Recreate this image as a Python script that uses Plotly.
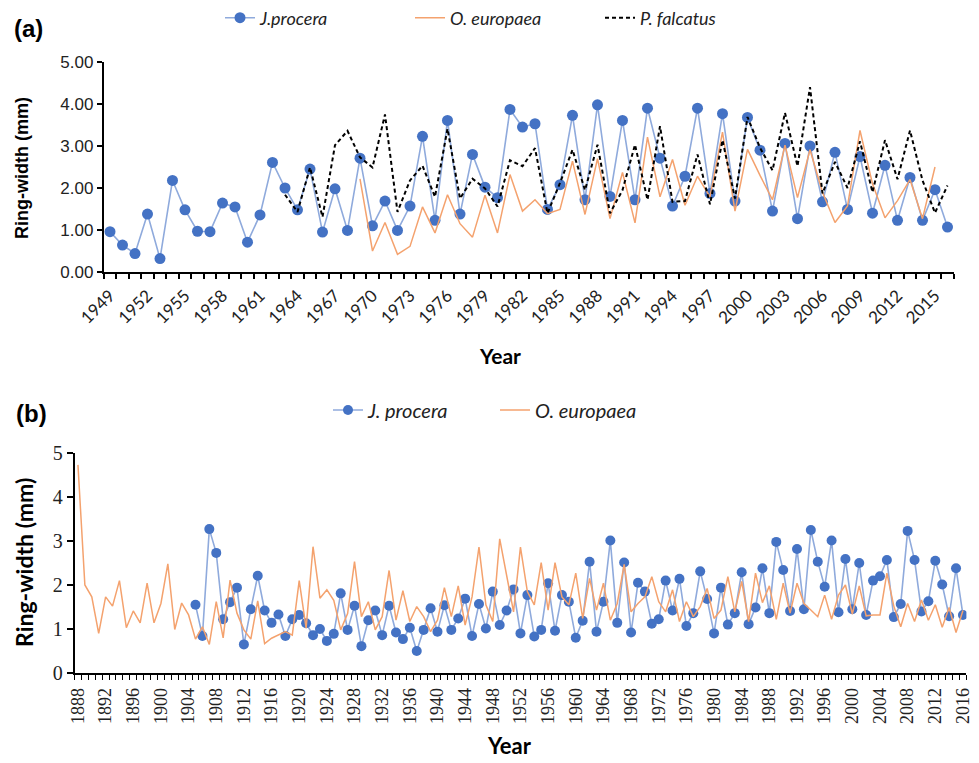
import plotly.graph_objects as go

# ---------------- Panel (a) data ----------------
years_a_jp = list(range(1949, 2017))
jp_a = [0.96, 0.64, 0.44, 1.38, 0.32, 2.18, 1.48, 0.97, 0.96, 1.64,
        1.55, 0.71, 1.36, 2.61, 2.00, 1.48, 2.45, 0.95, 1.98, 0.99,
        2.71, 1.10, 1.69, 0.99, 1.57, 3.23, 1.23, 3.61, 1.38, 2.80,
        2.02, 1.77, 3.87, 3.45, 3.53, 1.49, 2.08, 3.73, 1.72, 3.98,
        1.80, 3.61, 1.72, 3.90, 2.71, 1.57, 2.28, 3.90, 1.87, 3.77,
        1.69, 3.68, 2.90, 1.45, 3.06, 1.27, 3.00, 1.67, 2.85, 1.49,
        2.75, 1.40, 2.54, 1.23, 2.25, 1.23, 1.96, 1.07]

years_a_oe = list(range(1969, 2016))
oe_a = [2.22, 0.50, 1.18, 0.42, 0.61, 1.55, 0.93, 1.84, 1.15, 0.83,
        1.83, 0.93, 2.32, 1.45, 1.72, 1.39, 1.49, 2.64, 1.37, 2.70,
        1.27, 2.37, 1.17, 3.21, 1.79, 2.68, 1.59, 2.28, 1.79, 3.33,
        1.45, 2.92, 2.30, 1.72, 3.02, 1.77, 2.91, 1.90, 1.18, 1.57,
        3.37, 2.10, 1.29, 1.70, 2.20, 1.27, 2.50]

years_a_pf = list(range(1963, 2017))
pf_a = [1.84, 1.43, 2.49, 1.31, 3.02, 3.36, 2.73, 2.49, 3.75, 1.43,
        2.18, 2.53, 1.79, 3.41, 1.75, 2.22, 1.99, 1.56, 2.66, 2.52,
        2.95, 1.40, 2.12, 2.91, 1.95, 3.03, 1.40, 1.95, 3.03, 1.72,
        3.47, 1.67, 1.69, 2.80, 1.61, 3.14, 1.75, 3.69, 2.96, 2.42,
        3.79, 2.52, 4.40, 1.87, 2.62, 2.00, 3.11, 1.90, 3.14, 2.21,
        3.37, 2.18, 1.41, 2.06]

# ---------------- Panel (b) data ----------------
years_b_jp = list(range(1905, 2017))
jp_b = [1.55, 0.84, 3.27, 2.73, 1.22, 1.61, 1.94, 0.65, 1.45, 2.21,
        1.42, 1.14, 1.33, 0.84, 1.22, 1.32, 1.13, 0.86, 1.00, 0.73,
        0.89, 1.81, 0.98, 1.53, 0.61, 1.20, 1.42, 0.86, 1.53, 0.92,
        0.77, 1.03, 0.50, 0.98, 1.47, 0.94, 1.54, 0.98, 1.24, 1.69,
        0.84, 1.57, 1.01, 1.85, 1.09, 1.42, 1.90, 0.90, 1.77, 0.83,
        0.98, 2.04, 0.96, 1.77, 1.62, 0.80, 1.19, 2.53, 0.94, 1.62,
        3.01, 1.14, 2.51, 0.92, 2.05, 1.85, 1.12, 1.22, 2.10, 1.42,
        2.14, 1.07, 1.36, 2.31, 1.68, 0.90, 1.94, 1.10, 1.36, 2.29,
        1.11, 1.49, 2.38, 1.36, 2.98, 2.34, 1.41, 2.82, 1.45, 3.25,
        2.53, 1.96, 3.01, 1.38, 2.59, 1.45, 2.50, 1.32, 2.10, 2.20,
        2.57, 1.27, 1.57, 3.23, 2.57, 1.40, 1.63, 2.55, 2.01, 1.29,
        2.38, 1.32]

years_b_oe = list(range(1888, 2017))
oe_b = [4.73, 2.00, 1.73, 0.90, 1.73, 1.52, 2.10, 1.03, 1.41, 1.14,
        2.04, 1.14, 1.58, 2.48, 0.99, 1.59, 1.32, 0.77, 1.05, 0.65,
        1.62, 0.80, 2.11, 1.36, 0.98, 0.77, 1.64, 0.67, 0.79, 0.86,
        0.94, 0.86, 2.10, 1.02, 2.87, 1.70, 1.89, 1.65, 0.98, 1.35,
        2.53, 1.28, 1.62, 0.98, 1.28, 2.33, 1.20, 1.87, 1.17, 1.51,
        1.28, 0.94, 1.20, 1.94, 1.28, 1.98, 1.09, 1.73, 2.86, 1.55,
        1.17, 3.05, 2.23, 1.39, 2.86, 1.85, 1.55, 2.51, 1.43, 2.51,
        1.73, 1.55, 2.27, 1.24, 2.15, 1.43, 2.04, 1.20, 1.58, 2.47,
        1.39, 1.58, 1.73, 2.19, 1.62, 1.39, 1.89, 1.17, 1.62, 1.28,
        1.51, 1.92, 1.24, 1.43, 2.19, 1.39, 2.08, 1.17, 2.27, 1.60,
        1.98, 1.22, 2.04, 1.36, 2.04, 1.58, 1.43, 1.28, 1.77, 1.22,
        1.77, 2.00, 1.34, 1.98, 1.30, 1.32, 1.32, 2.27, 1.52, 1.05,
        1.58, 1.17, 1.66, 1.20, 1.55, 1.04, 1.49, 0.92, 1.42]

BLUE_M = "#4472C4"
BLUE_L = "#8FAADC"
ORANGE = "#F4A26E"
W, H = 979, 763

fig = go.Figure()

# Panel (a)
fig.add_trace(go.Scatter(x=years_a_jp, y=jp_a, name="<i>J.procera</i>", mode="lines+markers",
                         line=dict(color=BLUE_L, width=1.6),
                         marker=dict(color=BLUE_M, size=11, line=dict(width=0)),
                         xaxis="x", yaxis="y", legend="legend"))
fig.add_trace(go.Scatter(x=years_a_oe, y=oe_a, name="<i>O. europaea</i>", mode="lines",
                         line=dict(color=ORANGE, width=1.5),
                         xaxis="x", yaxis="y", legend="legend"))
fig.add_trace(go.Scatter(x=years_a_pf, y=pf_a, name="<i>P. falcatus</i>", mode="lines",
                         line=dict(color="black", width=2, dash="4px,3px"),
                         xaxis="x", yaxis="y", legend="legend"))

# Panel (b)
fig.add_trace(go.Scatter(x=years_b_jp, y=jp_b, name="<i>J. procera</i>", mode="lines+markers",
                         line=dict(color=BLUE_L, width=1.6),
                         marker=dict(color=BLUE_M, size=10, line=dict(width=0)),
                         xaxis="x2", yaxis="y2", legend="legend2"))
fig.add_trace(go.Scatter(x=years_b_oe, y=oe_b, name="<i>O. europaea</i>", mode="lines",
                         line=dict(color=ORANGE, width=1.5),
                         xaxis="x2", yaxis="y2", legend="legend2"))

axis_common = dict(showgrid=False, zeroline=False, showline=True, linecolor="black",
                   automargin=False)

fig.update_layout(
    width=W, height=H,
    margin=dict(l=0, r=0, t=0, b=0, autoexpand=False),
    paper_bgcolor="white", plot_bgcolor="white",
    xaxis=dict(**axis_common, linewidth=2, domain=[103.75 / W, 953.75 / W],
               range=[1948.5, 2016.5], tickmode="linear", tick0=1949, dtick=3,
               ticks="outside", ticklen=5, tickcolor="rgba(0,0,0,0)", tickangle=-45,
               tickfont=dict(family="Lato", size=17, color="#222"),
               minor=dict(tickmode="linear", tick0=1948.5, dtick=1, ticks="outside",
                          ticklen=5, tickcolor="black", tickwidth=1.5),
               anchor="y"),
    yaxis=dict(**axis_common, linewidth=2, domain=[1 - 272 / H, 1 - 62 / H],
               range=[0, 5], tickmode="linear", tick0=0, dtick=1, tickformat=".2f",
               ticks="outside", ticklen=5, tickwidth=1.5, tickcolor="black",
               tickfont=dict(family="Liberation Sans", size=17, color="#222"),
               anchor="x"),
    xaxis2=dict(**axis_common, linewidth=1.5, domain=[74.5 / W, 966.4 / W],
                range=[1887.5, 2016.5], tickmode="linear", tick0=1888, dtick=4,
                ticks="outside", ticklen=6, tickcolor="rgba(0,0,0,0)", tickangle=-90,
                tickfont=dict(family="Liberation Serif", size=18, color="#222"),
                minor=dict(tickmode="linear", tick0=1887.5, dtick=1, ticks="outside",
                           ticklen=5, tickcolor="black", tickwidth=1),
                anchor="y2"),
    yaxis2=dict(**axis_common, linewidth=1.5, domain=[1 - 673 / H, 1 - 453 / H],
                range=[0, 5], tickmode="linear", tick0=0, dtick=1,
                ticks="outside", ticklen=6, tickwidth=1.5, tickcolor="black",
                tickfont=dict(family="Liberation Serif", size=20, color="#222"),
                anchor="x2"),
    legend=dict(orientation="h", x=220 / W, y=1 - 18 / H, xanchor="left", yanchor="middle",
                font=dict(family="Lato", size=18, color="#222"), bgcolor="rgba(0,0,0,0)",
                traceorder="normal", entrywidth=145, entrywidthmode="pixels"),
    legend2=dict(orientation="h", x=328 / W, y=1 - 410 / H, xanchor="left", yanchor="middle",
                 font=dict(family="Lato", size=20, color="#222"), bgcolor="rgba(0,0,0,0)",
                 traceorder="normal", entrywidth=122, entrywidthmode="pixels"),
    showlegend=True,
)

annots = [
    dict(text="<b>(a)</b>", x=12 / W, y=1 - 28 / H, xanchor="left", yanchor="middle",
         font=dict(family="Liberation Sans", size=24, color="black")),
    dict(text="<b>(b)</b>", x=14 / W, y=1 - 413 / H, xanchor="left", yanchor="middle",
         font=dict(family="Liberation Sans", size=24, color="black")),
    dict(text="<b>Ring-width (mm)</b>", x=22 / W, y=1 - 168 / H, textangle=-90,
         xanchor="center", yanchor="middle",
         font=dict(family="Liberation Sans", size=18, color="black")),
    dict(text="<b>Ring-width (mm)</b>", x=24 / W, y=1 - 563 / H, textangle=-90,
         xanchor="center", yanchor="middle",
         font=dict(family="Lato", size=23, color="black")),
    dict(text="<b>Year</b>", x=500 / W, y=1 - 355 / H, xanchor="center", yanchor="middle",
         font=dict(family="Lato", size=21, color="black")),
    dict(text="<b>Year</b>", x=510 / W, y=1 - 745 / H, xanchor="center", yanchor="middle",
         font=dict(family="Lato", size=22, color="black")),
]
for a in annots:
    fig.add_annotation(xref="paper", yref="paper", showarrow=False, **a)

fig.write_html("out.html")
